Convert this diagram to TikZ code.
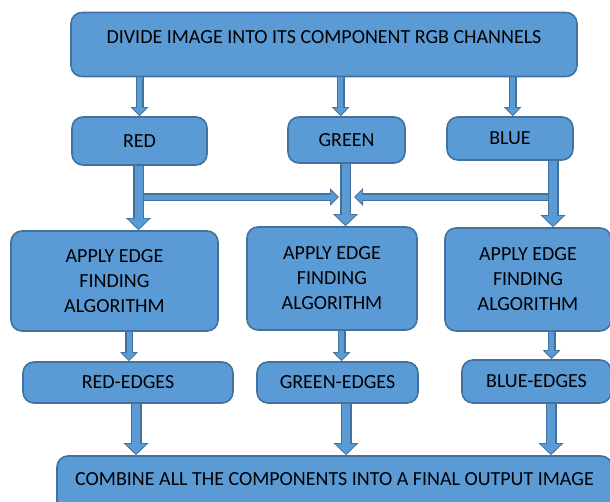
\documentclass[tikz,border=0pt]{standalone}
\usepackage{fontspec}
\setmainfont{Carlito}
\usetikzlibrary{arrows.meta}
\definecolor{boxblue}{HTML}{5B9BD5}
\definecolor{lineblue}{HTML}{41719C}
\tikzset{
  box/.style={draw=lineblue, fill=boxblue, line width=1.6pt, rounded corners=11pt,
    align=center, inner sep=0pt, font=\fontsize{20}{25}\selectfont},
  bigflow/.style={draw=boxblue, line width=8pt, shorten >=1.4pt,
    -{Triangle[length=10pt,width=20pt]},
    preaction={draw=lineblue, line width=11pt, shorten >=0pt,
      -{Triangle[length=12pt,width=24pt]}}},
  smallflow/.style={draw=boxblue, line width=5pt, shorten >=1.4pt,
    -{Triangle[length=7pt,width=13pt]},
    preaction={draw=lineblue, line width=8pt, shorten >=0pt,
      -{Triangle[length=9pt,width=17pt]}}},
}
\begin{document}
\begin{tikzpicture}[x=1pt,y=-1pt]
  \useasboundingbox (0,0) rectangle (610,501);

  % boxes
  \node[box, minimum width=506, minimum height=64, text depth=14pt] (split) at (324,44.5)
    {DIVIDE IMAGE INTO ITS COMPONENT RGB CHANNELS};

  \node[box, minimum width=135, minimum height=48] (red) at (139.5,141) {RED};
  \node[box, minimum width=117, minimum height=46] (green) at (346.5,140) {GREEN};
  \node[box, minimum width=126, minimum height=43] (blue) at (510,138.5) {BLUE};

  \node[box, minimum width=207, minimum height=100] (applyR) at (114.5,281)
    {APPLY EDGE\\FINDING\\ALGORITHM};
  \node[box, minimum width=170, minimum height=103] (applyG) at (332,278.5)
    {APPLY EDGE\\FINDING\\ALGORITHM};
  \node[box, minimum width=166, minimum height=103] (applyB) at (528,279.5)
    {APPLY EDGE\\FINDING\\ALGORITHM};

  \node[box, minimum width=210, minimum height=41] (redE) at (128,382.5) {RED-EDGES};
  \node[box, minimum width=161, minimum height=41] (greenE) at (337.5,382.5) {GREEN-EDGES};
  \node[box, minimum width=149, minimum height=43] (blueE) at (536.5,381.5) {BLUE-EDGES};

  \node[box, minimum width=555, minimum height=60, text depth=14pt] (combine) at (334.5,486)
    {COMBINE ALL THE COMPONENTS INTO A FINAL OUTPUT IMAGE};

  % columns of the arrows
  \coordinate (colR) at (138.5,0);
  \coordinate (colG) at (345.5,0);
  \coordinate (colB) at (553,0);
  \coordinate (joinR) at (138.5,197);
  \coordinate (joinG) at (339,197);
  \coordinate (joinGr) at (354,197);
  \coordinate (joinB) at (553,197);

  % sideways arrows into the green column
  \draw[smallflow] (joinR) -- (joinG);
  \draw[smallflow] (joinB) -- (joinGr);

  % split into channels
  \draw[smallflow] (split.south -| red.north) -- (red.north);
  \draw[smallflow] (split.south -| 340.7,0) -- (green.north -| 340.7,0);
  \draw[smallflow] (split.south -| 512.7,0) -- (blue.north -| 512.7,0);

  % channels to edge finding
  \draw[bigflow] (red.south -| colR) -- (applyR.north -| colR);
  \draw[bigflow] (green.south -| colG) -- (applyG.north -| colG);
  \draw[bigflow] (blue.south -| colB) -- (applyB.north -| colB);

  % edge finding to edges
  \draw[smallflow] (applyR.south -| 129,0) -- (redE.north -| 129,0);
  \draw[smallflow] (applyG.south -| 341.5,0) -- (greenE.north -| 341.5,0);
  \draw[smallflow] (applyB.south -| 551.5,0) -- (blueE.north -| 551.5,0);

  % edges to output
  \draw[bigflow] (redE.south -| 136,0) -- (combine.north -| 136,0);
  \draw[bigflow] (greenE.south -| 346,0) -- (combine.north -| 346,0);
  \draw[bigflow] (blueE.south -| 551,0) -- (combine.north -| 551,0);
\end{tikzpicture}
\end{document}
